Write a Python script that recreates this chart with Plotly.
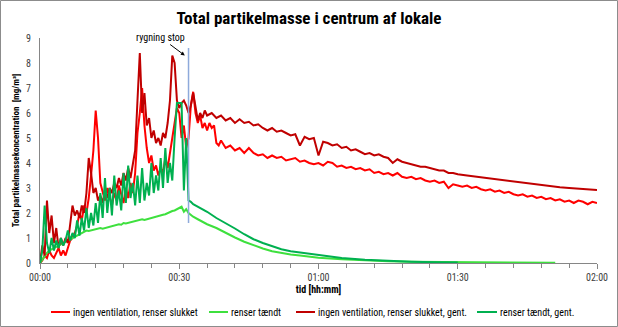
import plotly.graph_objects as go

# --- data: time in minutes after start, concentration in mg/m3 ---
names = [
    "ingen ventilation, renser slukket",
    "renser tændt",
    "ingen ventilation, renser slukket, gent.",
    "renser tændt, gent.",
]
colors = ["#FF0000", "#3EE03E", "#C00000", "#00B050"]

# dense 30-second readings during smoking (0-32 min)
t_dense = [i * 0.5 for i in range(65)]

red_dense = [0.0, 0.1, 0.3, 0.2, 0.5, 0.3, 0.2, 0.4, 0.6, 0.3, 0.5, 0.3, 0.6, 0.9, 1.0, 1.2,
             1.5, 2.0, 1.7, 2.3, 2.0, 2.6, 3.5, 4.5, 6.1, 5.0, 3.2, 2.8, 2.5, 3.0, 2.6, 2.3,
             2.8, 2.5, 3.1, 2.7, 2.4, 3.0, 2.6, 3.2, 2.8, 3.6, 5.2, 6.0, 7.0, 5.5, 4.6, 4.0,
             4.3, 3.7, 3.9, 3.5, 3.8, 3.6, 4.2, 3.8, 4.5, 5.0, 5.6, 6.2, 6.0, 5.0, 5.5, 4.6,
             5.0]
dred_dense = [0.0, 0.7, 0.3, 2.5, 1.2, 1.9, 0.8, 1.4, 0.6, 1.0, 0.7, 1.0, 0.8, 1.5, 2.3, 1.9,
              2.1, 1.8, 2.3, 2.0, 2.8, 4.2, 3.6, 2.8, 3.0, 2.5, 2.7, 2.4, 2.9, 2.6, 3.0, 2.8,
              3.2, 3.0, 3.4, 3.1, 3.6, 3.3, 3.8, 3.4, 3.9, 4.5, 6.5, 8.4, 6.0, 6.8, 5.5, 5.8,
              5.0, 5.3, 4.8, 5.0, 4.7, 5.2, 5.0, 5.6, 6.5, 8.3, 8.0, 6.5, 6.2, 6.4, 6.5, 6.3,
              6.0]
lgreen_dense = [0.0, 0.15, 0.3, 0.4, 0.5, 0.55, 0.6, 0.65, 0.7, 0.72, 0.8, 0.82, 0.9, 0.92,
                1.0, 1.02, 1.1, 1.12, 1.2, 1.22, 1.3, 1.28, 1.3, 1.33, 1.35, 1.38, 1.4, 1.37,
                1.4, 1.43, 1.45, 1.48, 1.5, 1.52, 1.55, 1.53, 1.6, 1.58, 1.6, 1.63, 1.65, 1.68,
                1.7, 1.73, 1.75, 1.72, 1.75, 1.78, 1.8, 1.83, 1.85, 1.88, 1.9, 1.93, 1.95,
                2.0, 2.05, 2.08, 2.1, 2.15, 2.2, 2.25, 2.05, 2.15, 2.0]
dgreen_dense = [0.0, 0.5, 2.3, 0.8, 0.4, 1.0, 0.5, 0.9, 0.6, 1.0, 0.7, 0.9, 1.3, 0.9, 1.2, 1.0,
                1.7, 1.1, 1.8, 1.3, 2.2, 1.4, 2.0, 1.5, 2.4, 1.6, 2.8, 1.8, 3.4, 2.0, 3.0, 1.9,
                3.5, 2.3, 2.9, 2.1, 3.6, 2.4, 3.9, 2.6, 3.2, 2.3, 3.5, 2.4, 3.8, 2.5, 3.2, 2.7,
                4.0, 2.8, 3.5, 2.9, 4.2, 3.0, 4.6, 3.2, 4.0, 3.3, 5.0, 6.4, 6.4, 6.4, 2.9, 5.0,
                2.5]

# readings after smoking stopped
t_red_after = [32.5, 33, 33.5, 34, 34.5, 35, 35.5, 36, 36.5, 37, 37.5, 38, 38.5, 39] + list(range(40, 121))
red_after = [6.3, 6.85, 6.0, 5.6, 5.9, 5.4, 5.6, 5.3, 5.6, 5.4, 5.5, 4.8, 4.7, 4.9,
             4.6, 4.7, 4.5, 4.6, 4.4, 4.6, 4.4, 4.3, 4.35, 4.2, 4.3, 4.2, 4.25, 4.1, 4.15,
             4.2, 4.05, 4.1, 4.0, 3.95, 4.0, 3.9, 4.05, 4.0, 3.85, 3.9, 3.8, 3.85, 3.75, 3.8,
             3.7, 3.75, 3.6, 3.65, 3.55, 3.6, 3.5, 3.6, 3.45, 3.4, 3.45, 3.35, 3.4, 3.3, 3.25,
             3.3, 3.2, 3.25, 3.0, 3.15, 3.1, 3.05, 3.1, 3.0, 3.05, 2.95, 2.9, 2.95, 2.85, 2.9,
             2.8, 2.85, 2.75, 2.7, 2.75, 2.65, 2.7, 2.6, 2.65, 2.55, 2.6, 2.5, 2.55, 2.45, 2.5,
             2.4, 2.5, 2.45, 2.35, 2.45, 2.4]

t_dred_after = [32.5, 33, 33.5, 34, 34.5, 35, 35.5] + list(range(36, 90)) + list(range(90, 121, 2))
dred_after = [6.3, 6.8, 6.2, 5.7, 6.0, 5.8, 6.1,
              5.9, 6.0, 5.8, 5.9, 5.7, 5.8, 5.6, 5.75, 5.6, 5.65, 5.5, 5.55, 5.4, 5.3, 5.4,
              5.25, 5.3, 5.2, 5.1, 5.15, 4.7, 5.05, 4.95, 5.0, 4.3, 4.85, 4.8, 4.7, 4.75, 4.6,
              4.65, 4.5, 4.55, 4.45, 4.35, 4.4, 4.3, 4.35, 4.25, 4.2, 4.0, 4.15, 4.05, 4.0,
              3.95, 3.9, 3.85, 3.85, 3.8, 3.75, 3.7, 3.7, 3.6, 3.6,
              3.55, 3.5, 3.45, 3.4, 3.35, 3.3, 3.25, 3.2, 3.15, 3.1, 3.07, 3.03, 3.0, 2.97,
              2.94, 2.92]

t_lgreen_after = [33, 34, 35, 36, 38, 40, 42, 44, 46, 48, 50, 52, 54, 56, 58, 60, 65, 70, 75,
                  80, 85, 90, 95, 100, 105, 111]
lgreen_after = [1.85, 1.75, 1.65, 1.55, 1.4, 1.2, 1.02, 0.85, 0.7, 0.58, 0.47, 0.4, 0.34,
                0.3, 0.25, 0.21, 0.15, 0.1, 0.07, 0.05, 0.04, 0.03, 0.02, 0.02, 0.01, 0.01]

t_dgreen_after = [32.5, 33, 34, 35, 36, 38, 40, 42, 44, 46, 48, 50, 52, 54, 56, 58, 60, 65,
                  70, 75, 80, 85, 90]
dgreen_after = [2.45, 2.35, 2.25, 2.15, 2.05, 1.8, 1.6, 1.38, 1.15, 0.95, 0.8, 0.66, 0.55,
                0.47, 0.42, 0.36, 0.3, 0.2, 0.13, 0.08, 0.05, 0.03, 0.02]

series_t = [t_dense + t_red_after, t_dense + t_lgreen_after,
            t_dense + t_dred_after, t_dense + t_dgreen_after]
series_v = [red_dense + red_after, lgreen_dense + lgreen_after,
            dred_dense + dred_after, dgreen_dense + dgreen_after]

x_tickvals = [0, 30, 60, 90, 120]
x_ticktext = ["00:00", "00:30", "01:00", "01:30", "02:00"]
y_tickvals = list(range(10))

stop_time = 32      # minute when smoking stopped
stop_y = [1.6, 8.6]  # extent of the marker line

FONT = "Liberation Sans Narrow, Roboto Condensed, Lato, sans-serif"
TXT = "#404040"

# plot-area geometry in pixels, used to place the legend row below the axis
W, H = 618, 327
ML, MR, MT, MB = 40, 21, 38, 64
PW, PH = W - ML - MR, H - MT - MB


def px_to_paper_x(px):
    return (px - ML) / PW


def px_to_paper_y(py):
    return (H - MB - py) / PH


fig = go.Figure()
for t, v, name, col in zip(series_t, series_v, names, colors):
    fig.add_trace(go.Scatter(x=t, y=v, mode="lines", name=name, showlegend=False,
                             line=dict(color=col, width=2)))

fig.add_shape(type="line", xref="x", yref="y", x0=stop_time, x1=stop_time,
              y0=stop_y[0], y1=stop_y[1], line=dict(color="#8EAADB", width=1.5))
fig.add_annotation(x=stop_time - 0.8, y=8.3, xref="x", yref="y", text="rygning stop",
                   showarrow=True, arrowhead=2, arrowsize=0.8, arrowwidth=1,
                   arrowcolor="#000000", ax=-24, ay=-18,
                   font=dict(family=FONT, size=10, color="#000000"))

# legend row: short line sample followed by the series name
legend_line_px = [(51, 70), (209, 228), (296, 315), (477, 497)]
legend_y = px_to_paper_y(312)
for (x0, x1), name, col in zip(legend_line_px, names, colors):
    fig.add_shape(type="line", xref="paper", yref="paper",
                  x0=px_to_paper_x(x0), x1=px_to_paper_x(x1), y0=legend_y, y1=legend_y,
                  line=dict(color=col, width=2))
    fig.add_annotation(xref="paper", yref="paper", x=px_to_paper_x(x1 + 1), y=legend_y,
                       text=name, showarrow=False, xanchor="left", yanchor="middle",
                       font=dict(family=FONT, size=10, color="#000000"))

# chart border
fig.add_shape(type="rect", xref="paper", yref="paper",
              x0=px_to_paper_x(0.5), x1=px_to_paper_x(W - 0.5),
              y0=px_to_paper_y(H - 0.5), y1=px_to_paper_y(0.5),
              line=dict(color="#8C8C8C", width=1))

fig.update_layout(
    width=W, height=H,
    margin=dict(l=ML, r=MR, t=MT, b=MB),
    paper_bgcolor="white", plot_bgcolor="white",
    font=dict(family=FONT, size=9, color=TXT),
    title=dict(text="<b>Total partikelmasse i centrum af lokale</b>",
               x=0.5, xref="container", xanchor="center", y=0.945, yanchor="middle",
               font=dict(family=FONT, size=17, color="#000000")),
    showlegend=False,
    xaxis=dict(range=[0, 120], tickvals=x_tickvals, ticktext=x_ticktext, automargin=False,
               showgrid=False, zeroline=False, showline=True, linecolor="#868686",
               linewidth=1, ticks="outside", ticklen=5, tickcolor="#868686",
               minor=dict(dtick=6, ticks="outside", ticklen=4, tickcolor="#868686"),
               tickfont=dict(family=FONT, size=10, color=TXT),
               title=dict(text="<b>tid [hh:mm]</b>", standoff=0,
                          font=dict(family=FONT, size=10, color="#000000"))),
    yaxis=dict(range=[0, 9], tickvals=y_tickvals, showgrid=False, zeroline=False,
               automargin=False, ticklabelstandoff=6,
               showline=True, linecolor="#868686", linewidth=1, ticks="",
               tickfont=dict(family=FONT, size=10, color=TXT),
               title=dict(text="<b>Total partikelmassekoncentration  [mg/m³]</b>", standoff=4,
                          font=dict(family=FONT, size=9, color="#000000"))),
)

fig.write_html("out.html")
